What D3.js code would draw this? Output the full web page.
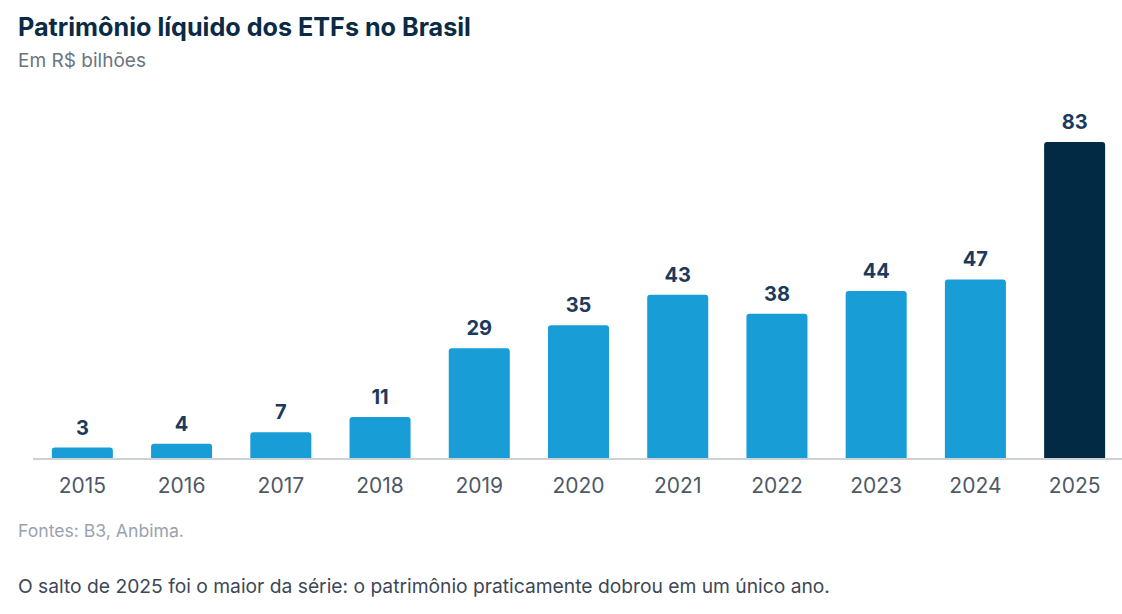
<!DOCTYPE html>
<html>
<head>
<meta charset="utf-8">
<script src="https://cdn.jsdelivr.net/npm/d3@7"></script>
<style>
  html, body { margin: 0; padding: 0; background: #ffffff; }
  svg { display: block; font-family: Inter, "Noto Sans", sans-serif; }
</style>
</head>
<body>
<svg id="chart" width="1122" height="614"></svg>
<script>
const years = ["2015","2016","2017","2018","2019","2020","2021","2022","2023","2024","2025"];
const values = [3, 4, 7, 11, 29, 35, 43, 38, 44, 47, 83];
const highlightYear = "2025";

const titleText = "Patrimônio líquido dos ETFs no Brasil";
const subtitleText = "Em R$ bilhões";
const sourceText = "Fontes: B3, Anbima.";
const noteText = "O salto de 2025 foi o maior da série: o patrimônio praticamente dobrou em um único ano.";

const svg = d3.select("#chart");
const baseY = 459;
const pxPerUnit = 3.82;

const x = d3.scaleBand()
  .domain(years)
  .range([33, 1124])
  .paddingInner(0.385)
  .paddingOuter(0.19);

const y = d3.scaleLinear()
  .domain([0, 83])
  .range([baseY, baseY - 83 * pxPerUnit]);

function fitText(sel, targetWidth) {
  const node = sel.node();
  const w = node.getComputedTextLength();
  const fs = parseFloat(sel.attr("font-size"));
  sel.attr("font-size", (fs * targetWidth / w).toFixed(2));
}

// Title
const t = svg.append("text")
  .attr("x", 18).attr("y", 36)
  .attr("font-size", 25).attr("font-weight", 700)
  .attr("fill", "#0b2a45")
  .text(titleText);
fitText(t, 453);

const st = svg.append("text")
  .attr("x", 18).attr("y", 67)
  .attr("font-size", 18).attr("font-weight", 400)
  .attr("fill", "#6b7480")
  .text(subtitleText);
fitText(st, 128);

// Bars
const data = years.map((yr, i) => ({ yr, v: values[i] }));
svg.append("g").selectAll("path")
  .data(data)
  .join("path")
  .attr("fill", d => d.yr === highlightYear ? "#022a45" : "#199dd7")
  .attr("d", d => {
    const x0 = x(d.yr), w = x.bandwidth();
    const y0 = y(d.v);
    const r = 3;
    return `M${x0},${baseY} L${x0},${y0 + r} Q${x0},${y0} ${x0 + r},${y0} L${x0 + w - r},${y0} Q${x0 + w},${y0} ${x0 + w},${y0 + r} L${x0 + w},${baseY} Z`;
  });

// Value labels
svg.append("g").selectAll("text")
  .data(data)
  .join("text")
  .attr("x", d => x(d.yr) + x.bandwidth() / 2)
  .attr("y", d => y(d.v) - 13)
  .attr("text-anchor", "middle")
  .attr("font-size", 20).attr("font-weight", 700)
  .attr("fill", "#1b3a5c")
  .text(d => d.v);

// Axis
const axis = d3.axisBottom(x).tickSize(0).tickPadding(19);
const gAxis = svg.append("g")
  .attr("transform", `translate(0,${baseY})`)
  .call(axis);
gAxis.select(".domain").attr("stroke", "#cdd1d6").attr("stroke-width", 2).attr("d", "M33,0H1124");
gAxis.selectAll(".tick text")
  .attr("font-family", "Inter, 'Noto Sans', sans-serif")
  .attr("font-size", 21)
  .attr("fill", "#4f5966")
  .attr("dy", "0.71em");

// Source
const so = svg.append("text")
  .attr("x", 18).attr("y", 537)
  .attr("font-size", 16).attr("fill", "#9aa3ad")
  .text(sourceText);
fitText(so, 166);

// Note
const nt = svg.append("text")
  .attr("x", 18).attr("y", 593)
  .attr("font-size", 19).attr("fill", "#3d4756")
  .text(noteText);
fitText(nt, 812);
</script>
</body>
</html>
